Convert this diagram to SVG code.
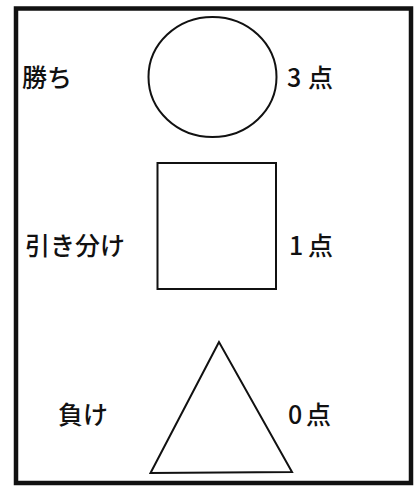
<svg xmlns="http://www.w3.org/2000/svg" width="417" height="493" viewBox="0 0 417 493">
<style>
.shape{fill:none;stroke:#111;stroke-width:2}
.lbl{font-family:"Noto Sans CJK JP","Noto Sans",sans-serif;font-size:25px;fill:#111;font-weight:500}
</style>
<rect x="0" y="0" width="417" height="493" fill="#fff"/>
<rect id="frame" x="16" y="8.5" width="395" height="474.5" fill="none" stroke="#111" stroke-width="4.5"/>
<g id="win">
<ellipse class="shape" cx="212.5" cy="77" rx="64" ry="60"/>
<text class="lbl" x="22" y="87">勝ち</text>
<text class="lbl" x="287" y="87">3<tspan x="308">点</tspan></text>
</g>
<g id="draw">
<rect class="shape" x="157.5" y="163" width="118.5" height="126"/>
<text class="lbl" x="25" y="255">引き分け</text>
<text class="lbl" x="289" y="255">1<tspan x="308">点</tspan></text>
</g>
<g id="lose">
<polygon class="shape" points="219,342 150.5,473 292,472"/>
<text class="lbl" x="58" y="424">負け</text>
<text class="lbl" x="288" y="424">0<tspan x="306">点</tspan></text>
</g>
<g id="connectors"/>
</svg>
